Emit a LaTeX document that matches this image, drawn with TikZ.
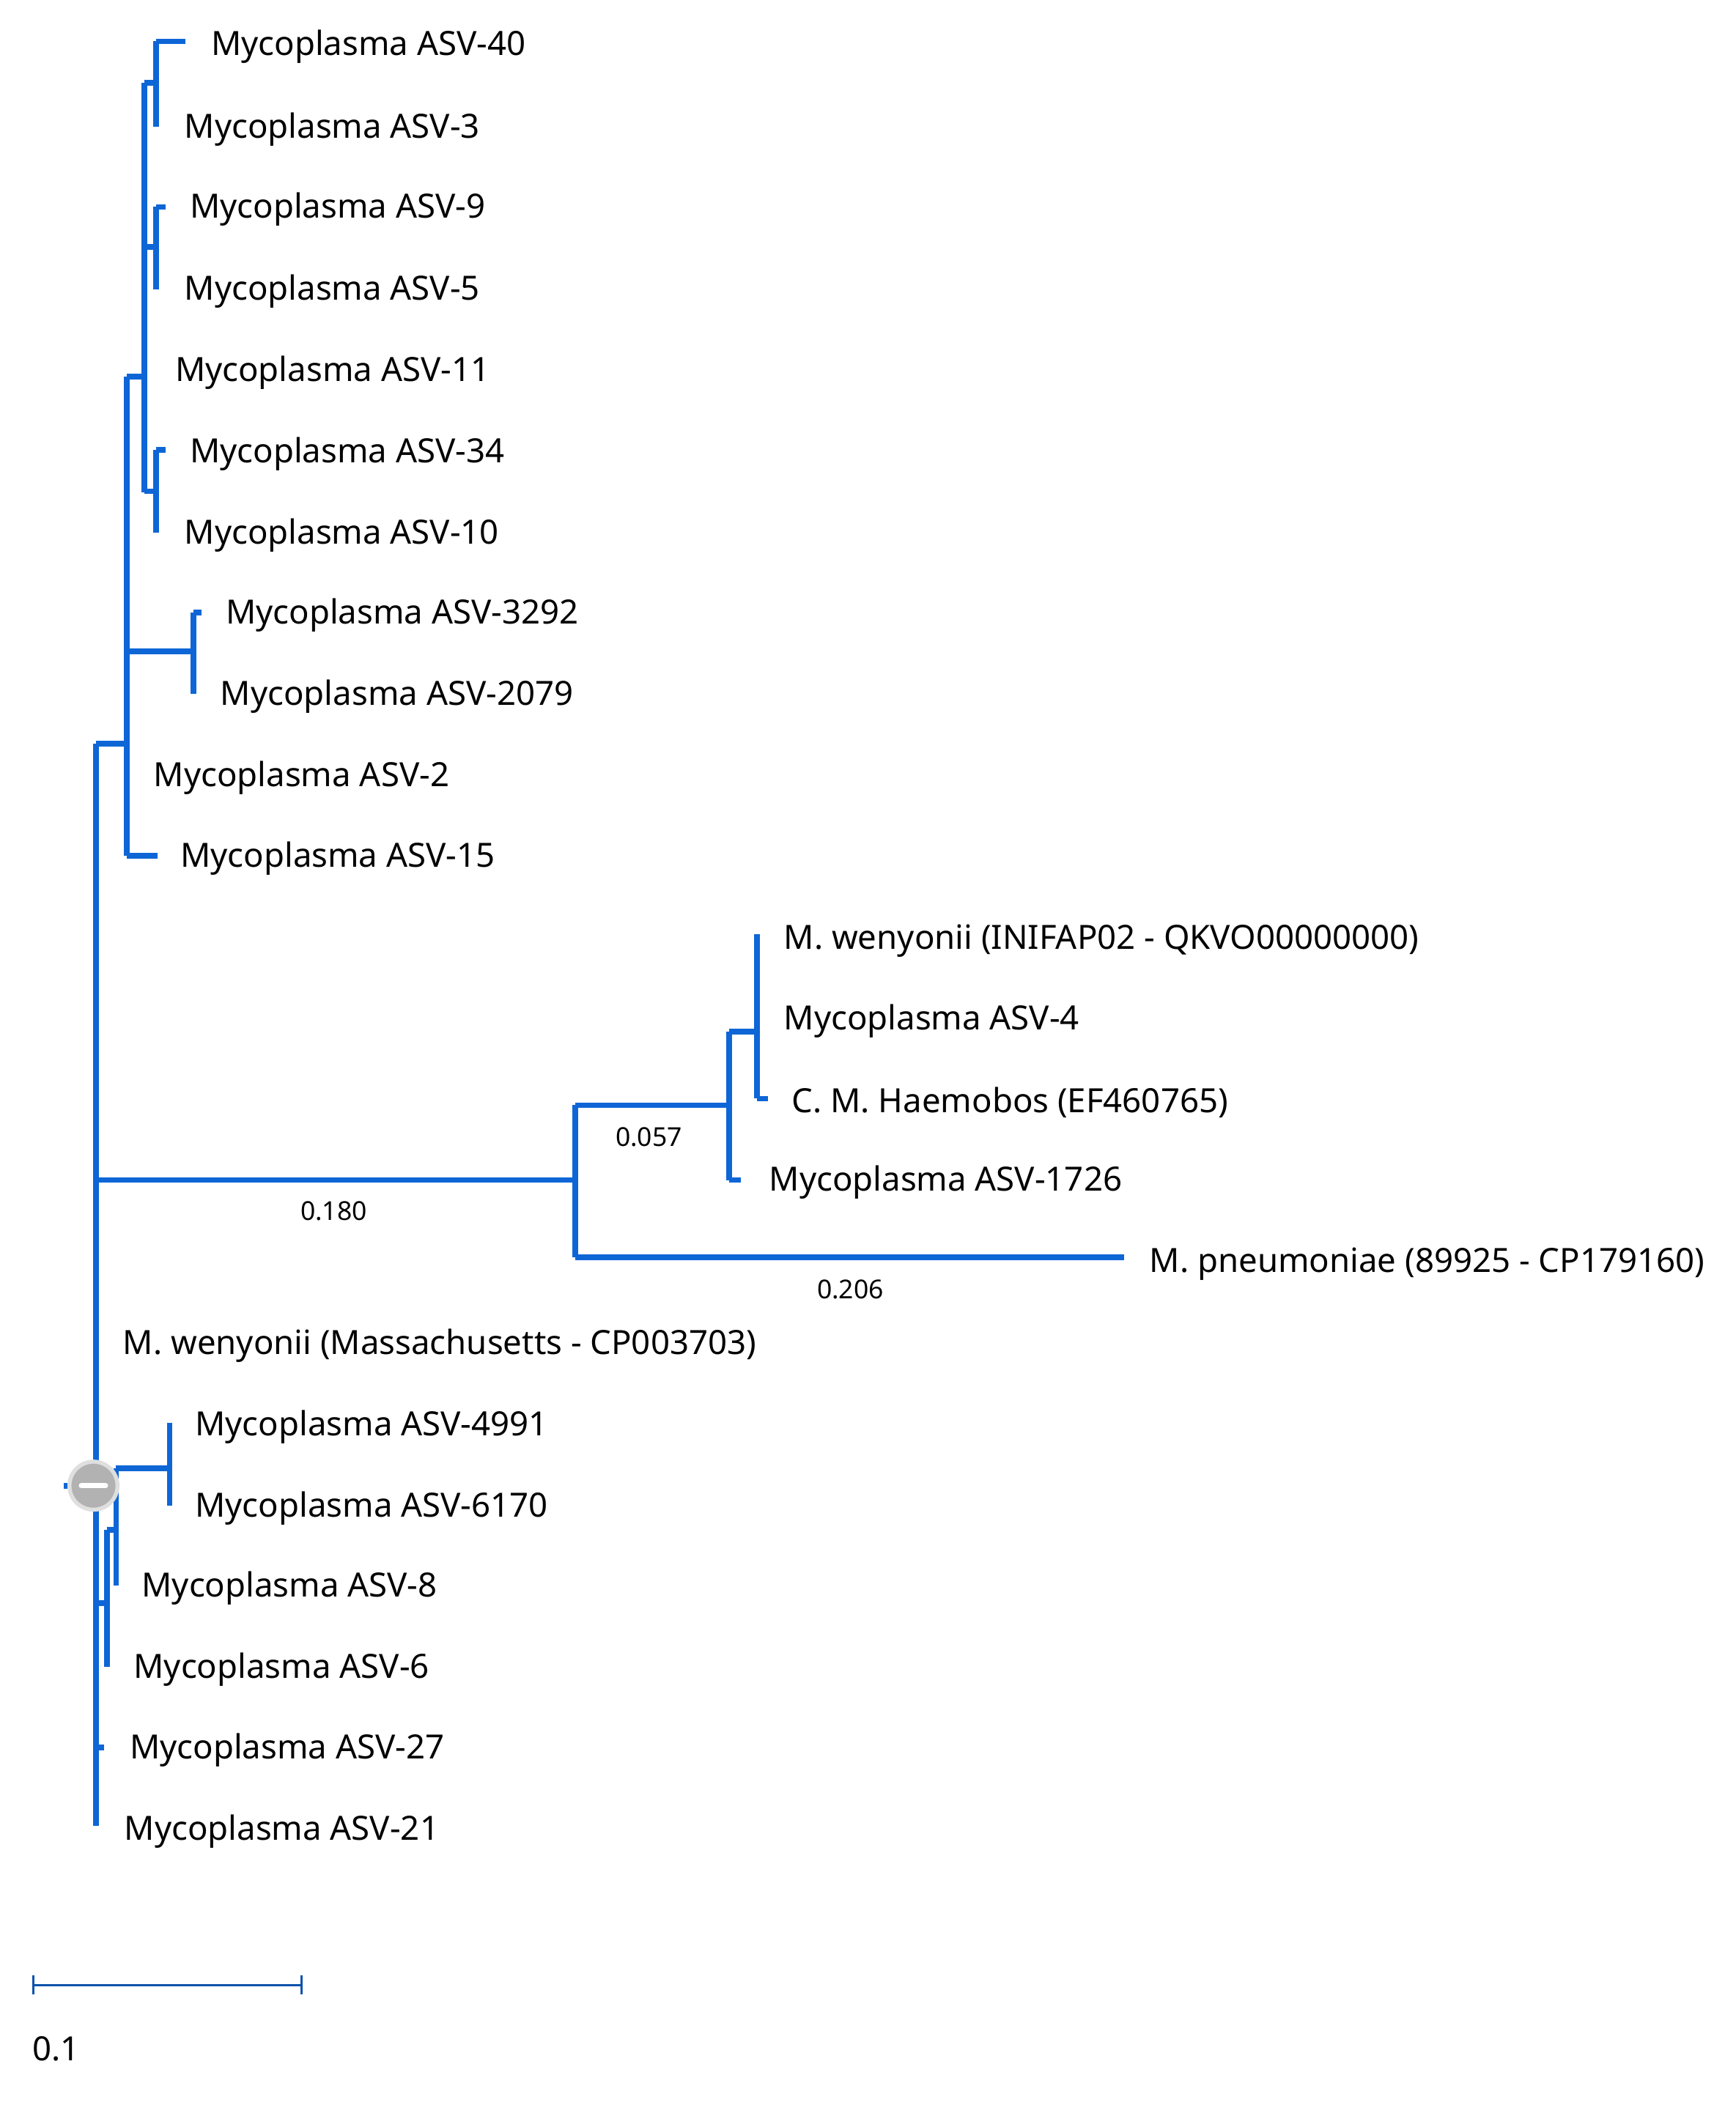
\documentclass[tikz,border=0pt]{standalone}
\usepackage{fontspec}
\setmainfont{Noto Sans}
\definecolor{treeblue}{RGB}{14,102,214}
\tikzset{
  br/.style={draw=treeblue, line width=4.2pt},
  leaf/.style={anchor=west, inner sep=0pt, font=\fontsize{25}{29}\selectfont},
  len/.style={inner sep=0pt, font=\fontsize{19.5}{22}\selectfont}
}
\begin{document}
\begin{tikzpicture}[x=1pt,y=-1pt]
\useasboundingbox (0,0) rectangle (1300,1577);

% upper clade
\draw[br] (72,557) -- (95,557);
\draw[br] (95,282) -- (95,641);
\draw[br] (95,282) -- (108,282);
\draw[br] (108,62) -- (108,369);
\draw[br] (108,62) -- (117,62);
\draw[br] (117,31) -- (117,95);
\draw[br] (117,31) -- (139,31);
\draw[br] (108,185) -- (117,185);
\draw[br] (117,155) -- (117,217);
\draw[br] (117,155) -- (124,155);
\draw[br] (108,368) -- (117,368);
\draw[br] (117,337) -- (117,399);
\draw[br] (117,337) -- (124,337);
\draw[br] (95,488) -- (145,488);
\draw[br] (145,459) -- (145,520);
\draw[br] (145,459) -- (151,459);
\draw[br] (95,641) -- (118,641);

% root
\draw[br] (72,557) -- (72,1368);

% middle clade
\draw[br] (72,884) -- (431,884);
\draw[br] (431,828) -- (431,942);
\draw[br] (431,828) -- (546,828);
\draw[br] (546,773) -- (546,884);
\draw[br] (546,884) -- (555,884);
\draw[br] (546,773) -- (567,773);
\draw[br] (567,700) -- (567,823);
\draw[br] (567,823) -- (575,823);
\draw[br] (431,942) -- (842,942);

% lower clade
\draw[br] (72,1201) -- (80,1201);
\draw[br] (80,1146) -- (80,1249);
\draw[br] (80,1146) -- (87,1146);
\draw[br] (87,1100) -- (87,1188);
\draw[br] (87,1100) -- (127,1100);
\draw[br] (127,1066) -- (127,1128);
\draw[br] (72,1309) -- (78,1309);
\draw[br] (48,1113) -- (72,1113);

% root marker
\node (root) [circle, minimum size=36pt, fill=gray!60, draw=gray!25, line width=3pt] at (70,1113) {};
\draw[white, line width=4pt, line cap=round] (61,1113) -- (79,1113);

% leaves
\node[leaf] (l40) at (158,35) {Mycoplasma ASV-40};
\node[leaf] (l3) at (138,97) {Mycoplasma ASV-3};
\node[leaf] (l9) at (142,157) {Mycoplasma ASV-9};
\node[leaf] (l5) at (138,218) {Mycoplasma ASV-5};
\node[leaf] (l11) at (131,279) {Mycoplasma ASV-11};
\node[leaf] (l34) at (142,340) {Mycoplasma ASV-34};
\node[leaf] (l10) at (138,401) {Mycoplasma ASV-10};
\node[leaf] (l3292) at (169,461) {Mycoplasma ASV-3292};
\node[leaf] (l2079) at (165,522) {Mycoplasma ASV-2079};
\node[leaf] (l2) at (115,583) {Mycoplasma ASV-2};
\node[leaf] (l15) at (135,643) {Mycoplasma ASV-15};
\node[leaf] (wInifap) at (587,705) {M. wenyonii (INIFAP02 - QKVO00000000)};
\node[leaf] (l4) at (587,765) {Mycoplasma ASV-4};
\node[leaf] (haemo) at (593,826) {C. M. Haemobos (EF460765)};
\node[leaf] (l1726) at (576,886) {Mycoplasma ASV-1726};
\node[leaf] (pneu) at (861,947) {M. pneumoniae (89925 - CP179160)};
\node[leaf] (wMass) at (92,1008) {M. wenyonii (Massachusetts - CP003703)};
\node[leaf] (l4991) at (146,1069) {Mycoplasma ASV-4991};
\node[leaf] (l6170) at (146,1130) {Mycoplasma ASV-6170};
\node[leaf] (l8) at (106,1190) {Mycoplasma ASV-8};
\node[leaf] (l6) at (100,1251) {Mycoplasma ASV-6};
\node[leaf] (l27) at (97,1311) {Mycoplasma ASV-27};
\node[leaf] (l21) at (93,1372) {Mycoplasma ASV-21};

% branch lengths
\node[len] (b180) at (250,907) {0.180};
\node[len] (b057) at (486,852) {0.057};
\node[len] (b206) at (637,966) {0.206};

% scale bar
\coordinate (s0) at (25,1487);
\coordinate (s1) at (226,1487);
\draw[treeblue!80!black, line width=1.6pt] (s0) -- (s1);
\draw[treeblue!80!black, line width=1.6pt] (25,1480) -- (25,1494) (226,1480) -- (226,1494);
\node[leaf] (sc) at (24,1535) {0.1};
\end{tikzpicture}
\end{document}
